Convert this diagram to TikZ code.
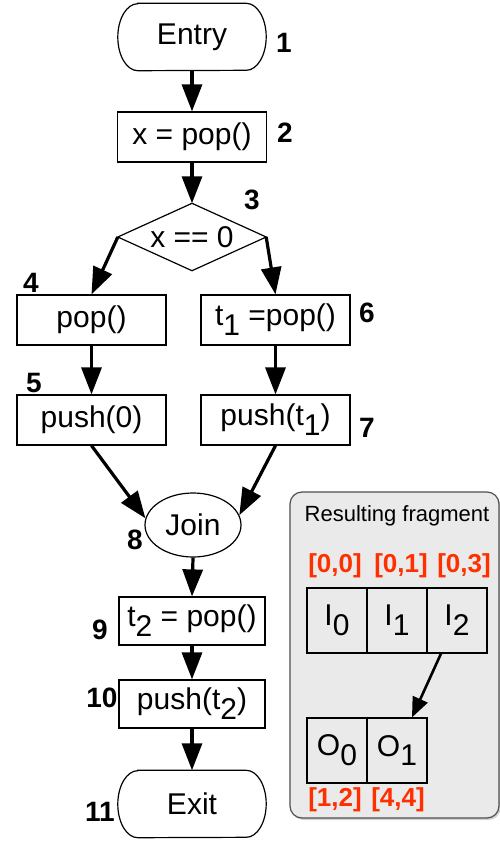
\documentclass[tikz,border=0pt]{standalone}
\usepackage{fontspec}
\setmainfont{Liberation Sans}
\usetikzlibrary{arrows.meta,shapes.geometric,shadows}
\definecolor{rangered}{RGB}{255,48,0}
\definecolor{panelgray}{RGB}{234,234,234}
\definecolor{paneledge}{RGB}{80,80,80}
% subscripts are set at full size, only lowered
\newcommand{\lowsub}[1]{\raisebox{-0.33em}{#1}}
% capsule outline with elliptical ends around a named node
\newcommand{\capsule}[1]{%
  \draw[line width=1.2pt]
    ([xshift=20pt]#1.north west) -- ([xshift=-20pt]#1.north east)
    arc[start angle=90,end angle=-90,x radius=20pt,y radius=33.5pt]
    -- ([xshift=20pt]#1.south west)
    arc[start angle=270,end angle=90,x radius=20pt,y radius=33.5pt]
    -- cycle;}
% flat diamond outline through the side anchors of a named node
\newcommand{\flatdiamond}[1]{%
  \draw[line width=1.2pt] (#1.north) -- (#1.east) -- (#1.south) -- (#1.west) -- cycle;}
\begin{document}
\begin{tikzpicture}[x=1pt,y=-1pt,
  main/.style={font=\fontsize{30}{34}\selectfont, inner sep=0pt},
  stmt/.style={main, draw, line width=1.2pt, rectangle, minimum width=149pt, minimum height=50pt},
  term/.style={main, rectangle, minimum width=148pt, minimum height=67pt},
  test/.style={main, rectangle, minimum width=148pt, minimum height=67pt},
  joinnode/.style={main, draw, line width=1.2pt, ellipse, minimum width=96pt, minimum height=64pt},
  num/.style={font=\bfseries\fontsize{28}{30}\selectfont, inner sep=0pt},
  flow/.style={-{Triangle[length=27pt,width=20pt]}, line width=3.2pt},
  fragarrow/.style={-{Triangle[length=20pt,width=16pt]}, line width=2.6pt},
  cell/.style={main, draw, line width=1.2pt, minimum width=60pt, minimum height=65pt},
  rangelbl/.style={font=\bfseries\fontsize{26}{28}\selectfont, text=rangered, inner sep=0pt},
  panel/.style={draw=paneledge, line width=1.2pt, fill=panelgray, rounded corners=12pt,
    minimum width=209pt, minimum height=326pt,
    drop shadow={shadow xshift=1.5pt, shadow yshift=-2pt, opacity=0.35}},
  paneltitle/.style={font=\fontsize{22}{26}\selectfont, inner sep=0pt}]
\useasboundingbox (0,0) rectangle (500,841);

% control flow graph
\node[term] (entry) at (192,37) {Entry};
\capsule{entry}
\node[stmt] (n2) at (192,137) {x = pop()};
\node[test] (n3) at (192,237) {x == 0};
\flatdiamond{n3}
\node[stmt] (n4) at (91.5,320) {pop()};
\node[stmt] (n6) at (275.5,320) {t\lowsub{1} =pop()};
\node[stmt] (n5) at (91.5,420) {push(0)};
\node[stmt] (n7) at (275.5,420) {push(t\lowsub{1})};
\node[joinnode] (join) at (193,525) {Join};
\node[stmt, minimum width=146pt, minimum height=48pt] (n9) at (192,621) {t\lowsub{2} = pop()};
\node[stmt, minimum width=146pt, minimum height=48pt] (n10) at (192,704) {push(t\lowsub{2})};
\node[term] (exit) at (192,804) {Exit};
\capsule{exit}

% node numbers
\node[num] (l1) at (284,43) {1};
\node[num] (l2) at (285,133) {2};
\node[num] (l3) at (252,200) {3};
\node[num] (l4) at (31,283) {4};
\node[num] (l5) at (34,383) {5};
\node[num] (l6) at (367,313) {6};
\node[num] (l7) at (367,428) {7};
\node[num] (l8) at (135,540) {8};
\node[num] (l9) at (100,630) {9};
\node[num] (l10) at (102,698) {10};
\node[num] (l11) at (100,812) {11};

% edges
\draw[flow] (entry.south) -- (n2.north);
\draw[flow] (n2.south) -- (n3.north);
\draw[flow] (n3.west) -- (n4.north);
\draw[flow] (n3.east) -- (n6.north);
\draw[flow] (n4.south) -- (n5.north);
\draw[flow] (n6.south) -- (n7.north);
\draw[flow] (n5.south) -- (join.172);
\draw[flow] (n7.south) -- (join.12);
\draw[flow] (join.south) -- (n9.north);
\draw[flow] (n9.south) -- (n10.north);
\draw[flow] (n10.south) -- (exit.north);

% resulting fragment
\node[panel] (box) at (394.5,655) {};
\node[paneltitle] (boxtitle) at (397,516) {Resulting fragment};
\node[cell] (i0) at (337,620.5) {I\lowsub{0}};
\node[cell] (i1) at (397,620.5) {I\lowsub{1}};
\node[cell] (i2) at (457,620.5) {I\lowsub{2}};
\node[cell] (o0) at (337,750.5) {O\lowsub{0}};
\node[cell] (o1) at (397,750.5) {O\lowsub{1}};
\node[rangelbl] (r00) at (335,566) {[0,0]};
\node[rangelbl] (r01) at (401,566) {[0,1]};
\node[rangelbl] (r03) at (464,566) {[0,3]};
\node[rangelbl] (r12) at (335,800) {[1,2]};
\node[rangelbl] (r44) at (398,800) {[4,4]};
\draw[fragarrow] ([xshift=-16pt]i2.south) -- ([xshift=15pt]o1.north);
\end{tikzpicture}
\end{document}
